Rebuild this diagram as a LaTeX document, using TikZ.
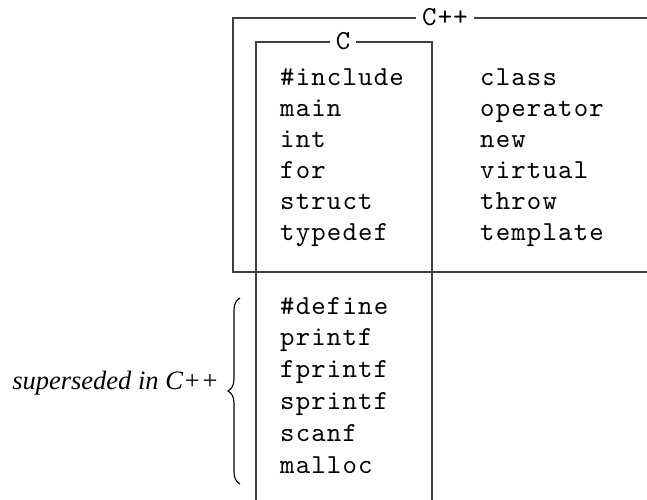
\documentclass[tikz,border=0pt]{standalone}
\usepackage{fontspec}
\setmonofont{lmmono10-regular.otf}[LetterSpace=4.2]
\newfontfamily\labelfont{Liberation Serif}
\usetikzlibrary{decorations.pathreplacing}
\newcommand\kwfont{\fontsize{27.5}{31}\selectfont\ttfamily}
\tikzset{
  kw/.style={anchor=base west, inner sep=0pt, font=\kwfont},
  frame/.style={draw=black!75, line width=1.3pt},
  framelabel/.style={fill=white, inner sep=0pt, inner xsep=6pt, font=\kwfont},
}
\begin{document}
\begin{tikzpicture}[x=1pt,y=-1pt]
\useasboundingbox (0,0) rectangle (647,499);
% frames
\draw[frame] (660,272) -- (233,272) -- (233,18) -- (660,18);
\draw[frame] (256,510) -- (256,42) -- (432,42) -- (432,510);
\node[framelabel] (cpp) at (445,17) {C++};
\node[framelabel] (c) at (343,41) {C};
% C column top
\foreach \w [count=\i from 0] in {\#include,main,int,for,struct,typedef}
  \node[kw] (ct\i) at (280,{85+31*\i}) {\w};
% C++ column
\foreach \w [count=\i from 0] in {class,operator,new,virtual,throw,template}
  \node[kw] (pp\i) at (480,{85+31*\i}) {\w};
% C column bottom
\foreach \w [count=\i from 0] in {\#define,printf,fprintf,sprintf,scanf,malloc}
  \node[kw] (cb\i) at (280,{314+31.8*\i}) {\w};
% brace
\coordinate (bb) at (240,484);
\coordinate (bt) at (240,298);
\draw[line width=1.1pt, decoration={brace, amplitude=12pt}, decorate] (bb) -- (bt);
\node[anchor=base east, inner sep=0pt, font=\fontsize{26.5}{31}\selectfont\labelfont\itshape] (sup) at (219,389) {superseded in C++};
\end{tikzpicture}
\end{document}
